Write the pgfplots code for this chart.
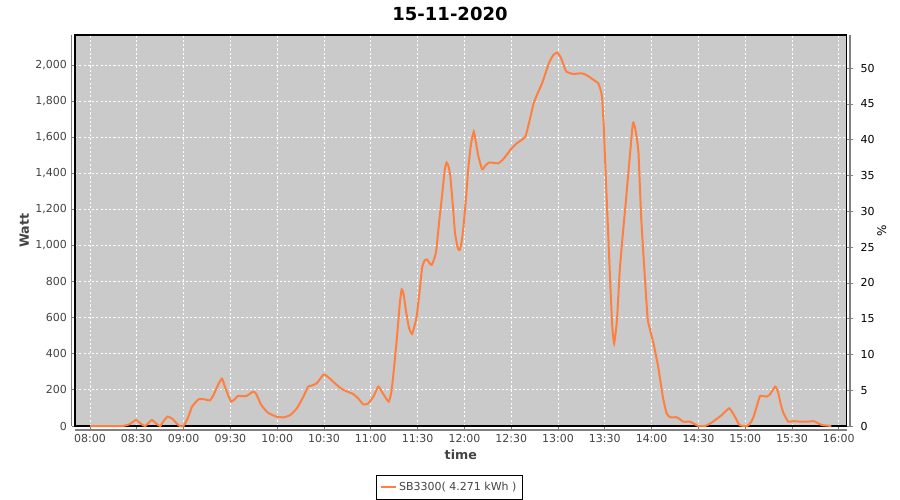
\documentclass[border=0pt]{standalone}
\usepackage{fontspec}
\setmainfont{DejaVu Sans}
\usepackage{pgfplots}
\pgfplotsset{compat=1.18}
\definecolor{bg}{HTML}{CACACA}
\definecolor{ser}{HTML}{FF7F3F}
\definecolor{tk}{HTML}{444444}
\definecolor{axg}{HTML}{808080}
\begin{document}
\begin{tikzpicture}
\path[use as bounding box, fill=white] (0pt,0pt) rectangle (675pt,375pt);
\node[font=\fontsize{13.5}{15}\selectfont\bfseries] at (337.5pt,364.5pt) {15-11-2020};
\begin{axis}[
  at={(56.25pt,55.5pt)}, anchor=south west, scale only axis,
  width=578.75pt, height=293.25pt,
  xmin=7.8397, xmax=16.084, ymin=0, ymax=2166,
  axis background/.style={fill=bg},
  axis line style={black, line width=0.8pt},
  xtick={8,8.5,9,9.5,10,10.5,11,11.5,12,12.5,13,13.5,14,14.5,15,15.5,16},
  xticklabels={08:00,08:30,09:00,09:30,10:00,10:30,11:00,11:30,12:00,12:30,13:00,13:30,14:00,14:30,15:00,15:30,16:00},
  ytick={0,200,400,600,800,1000,1200,1400,1600,1800,2000},
  yticklabel style={/pgf/number format/.cd, 1000 sep={,}, assume math mode=true},
  scaled y ticks=false,
  ytick pos=left, xtick pos=bottom,
  tick align=outside, major tick length=2.5pt,
  tick style={axg, line width=0.6pt},
  ticklabel style={font=\fontsize{8.25}{10}\selectfont, text=tk},
  grid=major,
  major grid style={white, line width=0.6pt, dash pattern=on 1.6pt off 1.6pt},
  xlabel={time}, ylabel={Watt},
  label style={font=\fontsize{9.5}{11}\selectfont\bfseries, text=tk},
  xlabel style={yshift=1pt},
  ylabel style={yshift=-2pt},
  legend style={at={(0.4853,-0.157)}, anchor=center, draw=black, fill=white,
    font=\fontsize{8.25}{10}\selectfont, text=tk, inner xsep=2.5pt, inner ysep=3pt,
    /tikz/every even column/.style={column sep=2pt}},
  legend image code/.code={\draw[#1] (0pt,0pt) -- (11pt,0pt);},
  clip=false,
]
\addplot[ser, line width=1.5pt, smooth, tension=0.3] coordinates {
(8.00,0) (8.35,0) (8.43,12) (8.49,33) (8.55,10) (8.59,0) (8.66,33) (8.71,12) (8.75,0) (8.79,30) (8.83,52) (8.88,40) (8.93,12) (8.96,0) (9.00,0) (9.05,50) (9.09,107) (9.16,148) (9.22,148) (9.28,142) (9.32,172) (9.37,230) (9.41,262) (9.44,220) (9.48,165) (9.51,135) (9.55,150) (9.58,166) (9.67,166) (9.74,190) (9.77,182) (9.80,150) (9.83,116) (9.90,74) (9.99,52) (10.07,48) (10.14,61) (10.21,98) (10.28,163) (10.33,218) (10.37,224) (10.42,236) (10.46,262) (10.50,286) (10.56,264) (10.62,235) (10.69,205) (10.75,190) (10.81,178) (10.87,150) (10.92,120) (10.97,124) (11.03,165) (11.08,218) (11.13,180) (11.19,135) (11.22,190) (11.25,330) (11.28,495) (11.31,680) (11.33,757) (11.35,730) (11.38,624) (11.41,540) (11.44,510) (11.47,560) (11.49,606) (11.52,740) (11.55,883) (11.58,920) (11.60,923) (11.63,900) (11.65,892) (11.68,930) (11.70,975) (11.73,1130) (11.76,1270) (11.79,1420) (11.81,1459) (11.83,1440) (11.85,1381) (11.88,1200) (11.90,1067) (11.93,985) (11.95,975) (11.97,1020) (11.99,1104) (12.02,1280) (12.04,1418) (12.07,1560) (12.10,1631) (12.12,1580) (12.15,1492) (12.19,1422) (12.22,1440) (12.26,1459) (12.31,1458) (12.36,1455) (12.41,1475) (12.45,1501) (12.50,1535) (12.56,1566) (12.65,1603) (12.70,1700) (12.74,1788) (12.78,1840) (12.83,1899) (12.87,1960) (12.91,2019) (12.95,2055) (12.99,2069) (13.02,2050) (13.04,2028) (13.07,1985) (13.09,1963) (13.16,1950) (13.25,1954) (13.30,1945) (13.34,1932) (13.40,1910) (13.43,1899) (13.45,1870) (13.47,1825) (13.49,1650) (13.50,1511) (13.53,1141) (13.56,772) (13.58,550) (13.60,458) (13.63,587) (13.66,864) (13.69,1050) (13.72,1215) (13.77,1511) (13.80,1677) (13.82,1660) (13.84,1600) (13.86,1511) (13.89,1141) (13.93,809) (13.96,587) (14.02,458) (14.07,329) (14.12,162) (14.16,70) (14.20,48) (14.27,48) (14.34,24) (14.41,24) (14.46,10) (14.50,0) (14.57,0) (14.63,15) (14.68,33) (14.75,61) (14.83,98) (14.89,52) (14.94,5) (15.02,0) (15.06,20) (15.09,52) (15.13,120) (15.16,166) (15.23,163) (15.26,172) (15.32,218) (15.35,190) (15.38,120) (15.41,70) (15.46,24) (15.51,27) (15.59,24) (15.67,24) (15.73,27) (15.78,15) (15.82,5) (15.92,0)
};
\addlegendentry{SB3300( 4.271 kWh )}
\draw[axg, line width=0.8pt] ([xshift=-2.3pt]rel axis cs:0,0) -- ([xshift=-2.3pt]rel axis cs:0,1);
\draw[axg, line width=0.8pt] ([yshift=-3pt]rel axis cs:0,0) -- ([yshift=-3pt]rel axis cs:1,0);
\end{axis}
\begin{axis}[
  at={(56.25pt,55.5pt)}, anchor=south west, scale only axis,
  width=578.75pt, height=293.25pt,
  xmin=7.8397, xmax=16.084, ymin=0, ymax=54.65,
  axis x line=none, axis y line*=right,
  axis line style={black, line width=0.8pt},
  ytick={0,5,10,15,20,25,30,35,40,45,50},
  yticklabel style={/pgf/number format/assume math mode=true, xshift=2.5pt},
  tick align=outside, major tick length=4.5pt,
  tick style={axg, line width=0.6pt},
  ticklabel style={font=\fontsize{8.25}{10}\selectfont, text=black},
  ylabel={\%},
  ylabel style={font=\fontsize{9}{10}\selectfont, text=black, yshift=5pt},
  clip=false,
]
\addplot[draw=none] coordinates {(8,0)};
\draw[axg, line width=0.8pt] ([xshift=2.5pt]rel axis cs:1,0) -- ([xshift=2.5pt]rel axis cs:1,1);
\end{axis}
\end{tikzpicture}
\end{document}
